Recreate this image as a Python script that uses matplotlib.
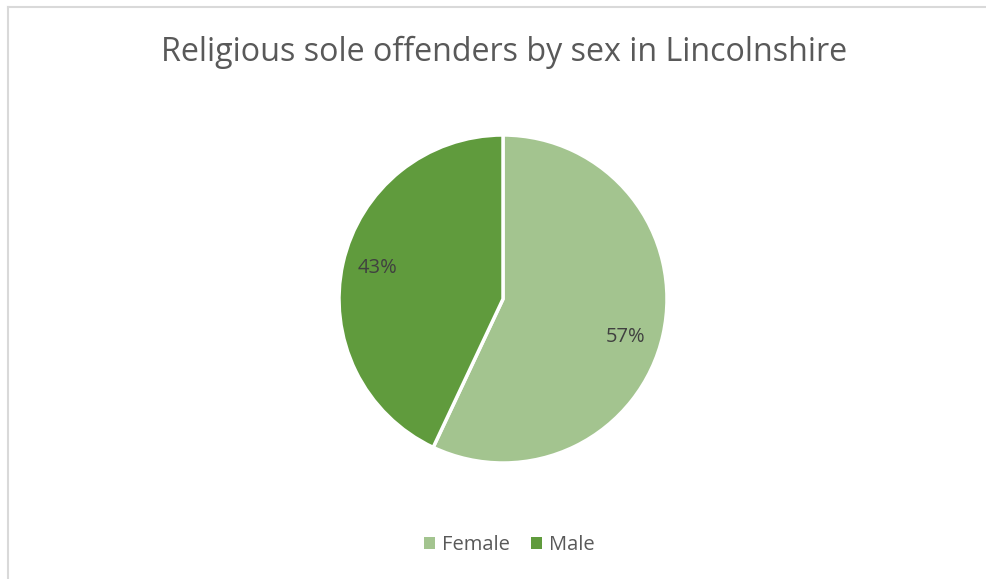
import numpy as np
import matplotlib
matplotlib.use("Agg")
import matplotlib.pyplot as plt
from matplotlib.lines import Line2D
from matplotlib.patches import Patch

# Data
labels = ["Female", "Male"]
shares = [57, 43]
colors = ["#A3C48F", "#609B3D"]
title = "Religious sole offenders by sex in Lincolnshire"

plt.rcParams["font.family"] = ["Open Sans", "DejaVu Sans"]

W, H = 987, 579
fig = plt.figure(figsize=(W / 100, H / 100), dpi=100)
fig.patch.set_facecolor("white")

# Chart area border (top and left edges)
border = "#D9D9D9"
fig.add_artist(Line2D([8 / W, 1.0], [1 - 7 / H, 1 - 7 / H], transform=fig.transFigure,
                      color=border, lw=1.5))
fig.add_artist(Line2D([8 / W, 8 / W], [0.0, 1 - 7 / H], transform=fig.transFigure,
                      color=border, lw=1.5))

# Pie
cx, cy, r = 503, 299, 164
ax = fig.add_axes([(cx - r) / W, (H - cy - r) / H, 2 * r / W, 2 * r / H])
wedges, texts, autotexts = ax.pie(
    shares, colors=colors, startangle=90, counterclock=False,
    autopct=lambda p: f"{p:.0f}%", pctdistance=0.78,
    wedgeprops=dict(edgecolor="white", linewidth=2.5),
    textprops=dict(color="#404040", fontsize=14.5),
)

# Best-fit placement of the percentage labels inside each wedge
angle_shift = [-4.7, -1.4]
label_dist = [0.78, 0.79]
for w, t, da, d in zip(wedges, autotexts, angle_shift, label_dist):
    mid = np.deg2rad((w.theta1 + w.theta2) / 2 + da)
    t.set_position((d * np.cos(mid), d * np.sin(mid)))

ax.set_xlim(-1.0, 1.0)
ax.set_ylim(-1.0, 1.0)
ax.set_aspect("equal")
ax.axis("off")

# Title
fig.text(504 / W, 1 - 52 / H, title, ha="center", va="center", fontsize=23.2, color="#595959")

# Legend
handles = [Patch(facecolor=c, edgecolor="none") for c in colors]
fig.legend(handles, labels, loc="center", bbox_to_anchor=(509 / W, 1 - 545 / H), ncol=2,
           frameon=False, fontsize=14.5, handlelength=0.55, handleheight=0.55,
           handletextpad=0.35, columnspacing=1.05, labelcolor="#595959")

fig.savefig("out.png", dpi=100, facecolor="white")
